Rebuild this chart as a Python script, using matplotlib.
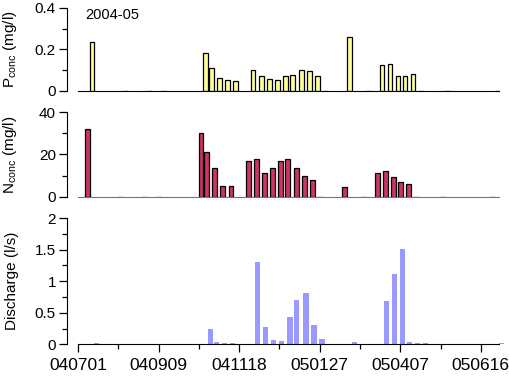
import numpy as np
import pandas as pd
import matplotlib
matplotlib.use("Agg")
import matplotlib.pyplot as plt
from matplotlib.ticker import MultipleLocator, FormatStrFormatter

plt.rcParams['font.family'] = ['Liberation Sans', 'DejaVu Sans']
plt.rcParams['mathtext.fontset'] = 'custom'
plt.rcParams['mathtext.rm'] = 'Liberation Sans'

# sampling dates (yymmdd) and measured values
dates = ['040711', '040809', '040830', '040911', '041018', '041023', '041030',
         '041106', '041113', '041128', '041205', '041212', '041219', '041226',
         '050101', '050109', '050116', '050123', '050130', '050220', '050308',
         '050320', '050327', '050403', '050409', '050416', '050423', '050516',
         '050628']
p_conc = [0.238, 0, 0, 0, 0.181, 0.110, 0.064, 0.053, 0.048, 0.100, 0.070,
          0.058, 0.052, 0.070, 0.075, 0.100, 0.095, 0.070, 0, 0.261, 0,
          0.124, 0.129, 0.071, 0.071, 0.081, 0, 0, 0]
n_conc = [32.1, 0, 0, 0, 30.0, 21.0, 13.7, 5.3, 5.3, 16.8, 17.9, 11.1, 13.6,
          16.8, 17.9, 13.6, 10.0, 7.9, 0, 4.9, 0, 11.1, 12.1, 9.6, 6.9, 5.9,
          0, 0, 0]
discharge = [0.02, 0.008, 0.008, 0.008, 0.25, 0.037, 0.016, 0.016, 0.005,
             1.30, 0.27, 0.068, 0.052, 0.44, 0.70, 0.81, 0.30, 0.089, 0.01,
             0.037, 0.01, 0.685, 1.11, 1.51, 0.037, 0.026, 0.016, 0.01, 0.016]

tick_labels = ['040701', '040909', '041118', '050127', '050407', '050616']

start = pd.to_datetime('040701', format='%y%m%d')
days = (pd.to_datetime(dates, format='%y%m%d') - start).days.values
tick_days = (pd.to_datetime(tick_labels, format='%y%m%d') - start).days.values

w = 4.2  # bar width in days

fig = plt.figure(figsize=(5.1, 3.82), dpi=100)
ax1 = fig.add_axes([0.1314, 0.7618, 0.8588, 0.2173])
ax2 = fig.add_axes([0.1314, 0.4843, 0.8588, 0.2225])
ax3 = fig.add_axes([0.1314, 0.0987, 0.8588, 0.3306])

ax1.bar(days, p_conc, width=w, align='edge', color='#ffff99',
        edgecolor='black', linewidth=0.9)
ax2.bar(days, n_conc, width=-w, align='edge', color='#cc3366',
        edgecolor='black', linewidth=0.9)
ax3.bar(days + 3.8, discharge, width=4.6, align='edge', color='#9999ff',
        edgecolor='none')

for ax in (ax1, ax2, ax3):
    ax.set_xlim(-9.55, 371)
    for s in ('top', 'right'):
        ax.spines[s].set_visible(False)
    ax.spines['bottom'].set_bounds(0, 366)
    ax.tick_params(axis='y', which='major', length=6, width=0.9, pad=2,
                   labelsize=11)
    ax.tick_params(axis='y', which='minor', length=3.5, width=0.9)
    ax.yaxis.set_major_formatter(FormatStrFormatter('%g'))
    ax.yaxis.set_label_coords(-0.11, 0.5)

for ax in (ax1, ax2):
    ax.tick_params(axis='x', which='both', bottom=False, labelbottom=False)
ax2.spines['bottom'].set_color('#777777')

ax1.set_ylim(0, 0.4)
ax1.yaxis.set_major_locator(MultipleLocator(0.2))
ax1.yaxis.set_minor_locator(MultipleLocator(0.1))
ax1.set_ylabel('P$_{\\mathrm{conc}}$ (mg/l)', fontsize=11)
ax1.text(0.041, 0.91, '2004-05', transform=ax1.transAxes, fontsize=10.5,
         va='center', ha='left')

ax2.set_ylim(0, 40)
ax2.yaxis.set_major_locator(MultipleLocator(20))
ax2.yaxis.set_minor_locator(MultipleLocator(10))
ax2.set_ylabel('N$_{\\mathrm{conc}}$ (mg/l)', fontsize=11)

ax3.set_ylim(0, 2)
ax3.yaxis.set_major_locator(MultipleLocator(0.5))
ax3.yaxis.set_minor_locator(MultipleLocator(0.25))
ax3.set_ylabel('Discharge (l/s)', fontsize=11)
ax3.set_xticks(tick_days)
ax3.set_xticklabels(tick_labels)
ax3.set_xticks(tick_days[:-1] + 35, minor=True)
ax3.tick_params(axis='x', which='major', length=6, width=0.9, pad=4,
                labelsize=12.5)
ax3.tick_params(axis='x', which='minor', length=3.5, width=0.9)

fig.savefig('out.png', dpi=100)
